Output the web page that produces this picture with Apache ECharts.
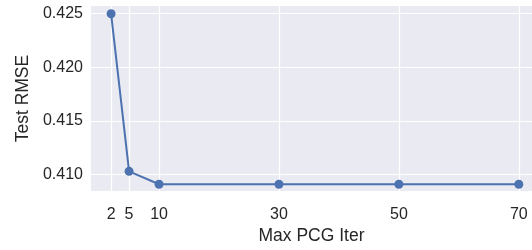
<!DOCTYPE html>
<html>
<head>
<meta charset="utf-8">
<script src="https://cdn.jsdelivr.net/npm/echarts@6/dist/echarts.min.js"></script>
<style>
  html, body { margin: 0; padding: 0; background: #ffffff; }
  #chart { width: 532px; height: 250px; }
</style>
</head>
<body>
<div id="chart"></div>
<script>
// data
var iters = [2, 5, 10, 30, 50, 70];
var rmse = [0.4250, 0.4103, 0.4091, 0.4091, 0.4091, 0.4091];
var xTicks = [2, 5, 10, 30, 50, 70];
var yTicks = [0.410, 0.415, 0.420, 0.425];

var textColor = '#262626';
var fontFam = '"Liberation Sans", Arial, sans-serif';

var chart = echarts.init(document.getElementById('chart'));

var points = [];
for (var i = 0; i < iters.length; i++) {
    points.push([iters[i], rmse[i]]);
}

var option = {
    animation: false,
    grid: {
        left: 91, top: 6, right: 0, bottom: 53,
        show: true, backgroundColor: '#EAEAF2', borderWidth: 0
    },
    xAxis: {
        type: 'value',
        min: -1.35, max: 72.2,
        name: 'Max PCG Iter',
        nameLocation: 'middle',
        nameGap: 35,
        nameTextStyle: { color: textColor, fontSize: 17.5, fontFamily: fontFam },
        axisLine: { show: false },
        axisTick: { show: false, customValues: xTicks },
        axisLabel: {
            customValues: xTicks, color: textColor, fontSize: 16,
            fontFamily: fontFam, margin: 15
        },
        splitLine: { show: true, lineStyle: { color: '#ffffff', width: 1.2 } }
    },
    yAxis: {
        type: 'value',
        min: 0.40846, max: 0.42572,
        name: 'Test RMSE',
        nameLocation: 'middle',
        nameGap: 59,
        nameTextStyle: { color: textColor, fontSize: 17.5, fontFamily: fontFam },
        axisLine: { show: false },
        axisTick: { show: false, customValues: yTicks },
        axisLabel: {
            customValues: yTicks, color: textColor, fontSize: 16,
            fontFamily: fontFam, margin: 8,
            formatter: function (v) { return v.toFixed(3); }
        },
        splitLine: { show: true, lineStyle: { color: '#ffffff', width: 1.2 } }
    },
    series: [{
        type: 'line',
        data: points,
        symbol: 'circle',
        symbolSize: 9,
        lineStyle: { color: '#4C72B0', width: 2 },
        itemStyle: { color: '#4C72B0' }
    }]
};

chart.setOption(option);
</script>
</body>
</html>
